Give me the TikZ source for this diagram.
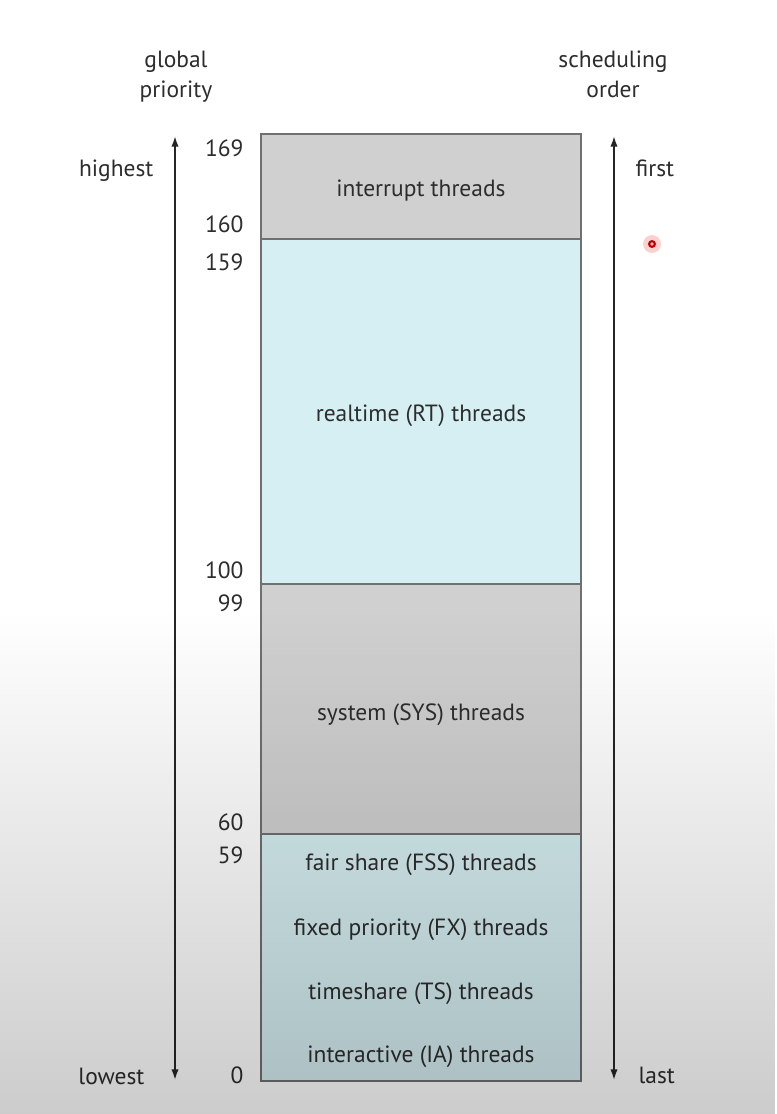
\documentclass[tikz,border=0pt]{standalone}
\usepackage{fontspec}
\setmainfont{PT Sans}
\usetikzlibrary{arrows.meta,fadings}
\definecolor{bandgray}{RGB}{208,208,208}
\definecolor{bandcyan}{RGB}{214,239,242}
\definecolor{edgegray}{RGB}{112,112,112}
\definecolor{inkgray}{RGB}{45,45,45}
\tikzset{
    band/.style={draw=edgegray, line width=0.8pt, minimum width=240pt, inner sep=0pt},
    lbl/.style={text=inkgray, inner sep=1pt, font=\fontsize{17.6}{22.5}\selectfont},
    num/.style={lbl, anchor=east},
    axis/.style={line width=1.3pt, draw=black!85,
        {Latex[length=8pt,width=5.5pt]}-{Latex[length=8pt,width=5.5pt]}}
}

\begin{document}
\begin{tikzpicture}[x=0.75pt,y=-0.75pt]
        % Page and its margins
        \fill[white] (0,0) rectangle (776,1114);
        \useasboundingbox (0,0) rectangle (776,1114);
        % Column headings
        \node[lbl, align=center] (glob) at (176,77) {global\\priority};
        \node[lbl, align=center] (sched) at (613,74) {scheduling\\order};
        % The stacked classes
        \node[band, fill=bandgray, minimum height=78.75pt] (intr) at (421,186.5) {};
        \node[band, fill=bandcyan, minimum height=258.75pt] (rt) at (421,411.5) {};
        \node[band, fill=bandgray, minimum height=187.5pt] (sys) at (421,709) {};
        \node[band, fill=bandcyan, minimum height=185.25pt] (low) at (421,957.5) {};
        \node[lbl] (intrl) at (421,191) {interrupt threads};
        \node[lbl] (rtl) at (421,416) {realtime (RT) threads};
        \node[lbl] (sysl) at (421,715) {system (SYS) threads};
        \node[lbl] (fss) at (421,865) {fair share (FSS) threads};
        \node[lbl] (fx) at (421,930) {fixed priority (FX) threads};
        \node[lbl] (ts) at (421,994) {timeshare (TS) threads};
        \node[lbl] (ia) at (421,1057) {interactive (IA) threads};
        % Priority values at the band edges
        \foreach \v/\y in {169/148, 160/224, 159/262, 100/570, 99/603, 60/822, 59/855, 0/1075}
            \node[num] (n\v) at (245,\y) {\v};
        % The two axes
        \coordinate (ltop) at (175,136);
        \coordinate (lbot) at (175,1080);
        \coordinate (rtop) at (614,136);
        \coordinate (rbot) at (614,1080);
        \draw[axis] (ltop) -- (lbot);
        \draw[axis] (rtop) -- (rbot);
        \node[lbl, anchor=east] (high) at (155,171) {highest};
        \node[lbl, anchor=east] (lowest) at (146,1076) {lowest};
        \node[lbl, anchor=west] (first) at (634,168) {first};
        \node[lbl, anchor=west] (last) at (637,1075) {last};
        % Pointer dot
        \fill[red!60, opacity=0.3] (652,244) circle (9);
        \fill[red!75!black] (652,244) circle (4);
        \fill[red!30] (652,244) circle (1.8);
        % Darkening toward the bottom
        \fill[black, opacity=0.2, path fading=north] (0,610) rectangle (776,1114);
    \end{tikzpicture}
\end{document}
